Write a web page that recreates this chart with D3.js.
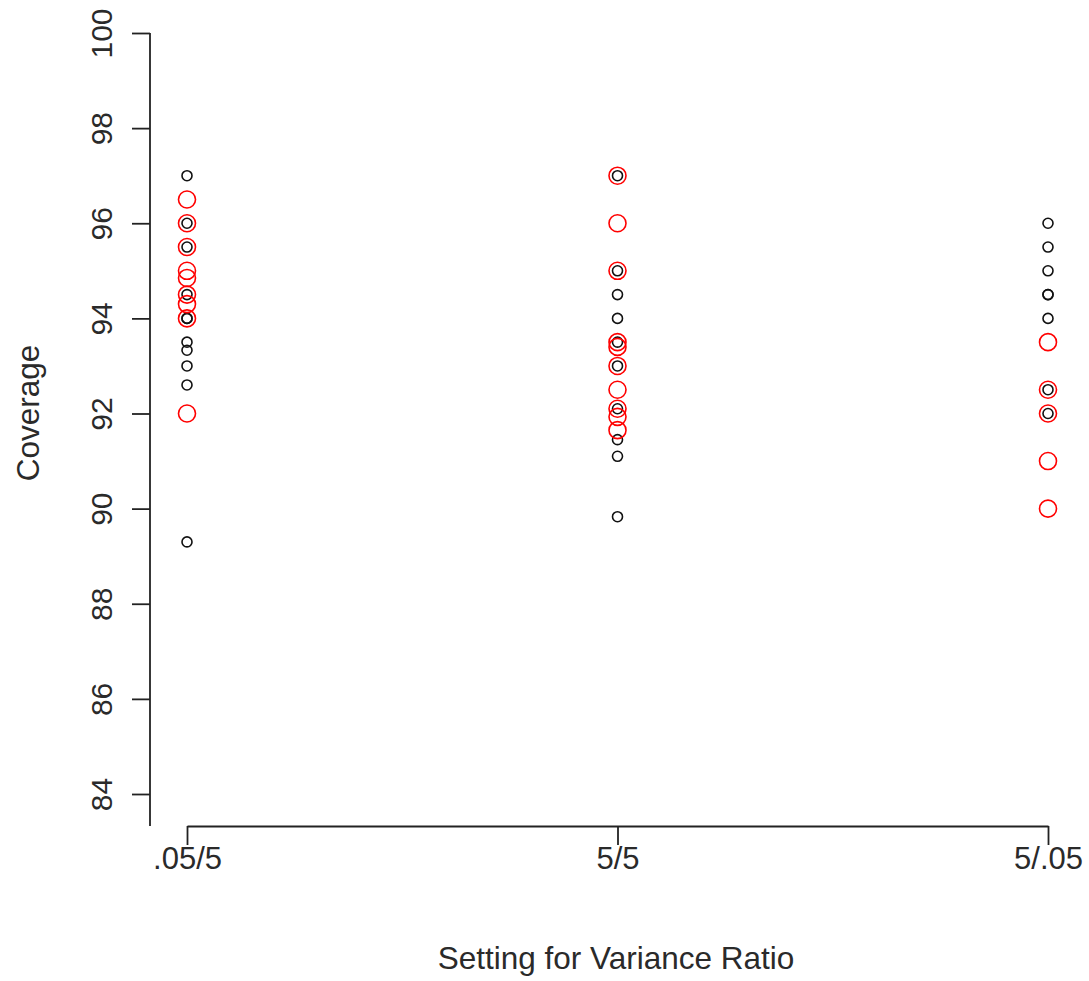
<!DOCTYPE html>
<html>
<head>
<meta charset="utf-8">
<script src="https://cdn.jsdelivr.net/npm/d3@7"></script>
<style>
  body { margin: 0; background: #fff; }
  text { font-family: "Liberation Sans", Arial, sans-serif; fill: #2a2a2a; }
</style>
</head>
<body>
<svg id="chart"></svg>
<script>

// categories on the x axis
const settings = [".05/5", "5/5", "5/.05"];

// black (small) coverage values per setting
const blackValues = [
    [97.0, 96.0, 95.5, 94.5, 94.0, 94.0, 93.5, 93.33, 93.0, 92.6, 89.3],
    [97.0, 95.0, 94.5, 94.0, 93.5, 93.0, 92.1, 91.45, 91.1, 89.83],
    [96.0, 95.5, 95.0, 94.5, 94.5, 94.0, 92.5, 92.0]
];

// red (large) coverage values per setting
const redValues = [
    [96.5, 96.0, 95.5, 95.0, 94.85, 94.5, 94.3, 94.0, 92.0],
    [97.0, 96.0, 95.0, 93.5, 93.4, 93.0, 92.5, 92.1, 91.93, 91.65],
    [93.5, 92.5, 92.0, 91.0, 90.0]
];

const yTicks = [84, 86, 88, 90, 92, 94, 96, 98, 100];

let svgWidth = 1089;
let svgHeight = 981;

let svg = d3.select("#chart")
    .attr("width", svgWidth)
    .attr("height", svgHeight);

let xScale = d3.scalePoint().domain(settings).range([187, 1048]);
let yScale = d3.scaleLinear().domain([84, 100]).range([794, 33]);

let axisY = 826;   // level of the x axis
let axisX = 150;   // position of the y axis

// y axis
let yAxis = svg.append("g")
    .attr("transform", "translate(" + axisX + ",0)")
    .call(d3.axisLeft(yScale).tickValues(yTicks).tickSize(18).tickSizeOuter(0).tickFormat(d3.format("d")));

yAxis.select(".domain").attr("d", "M0," + yScale(100) + "V" + axisY);
yAxis.selectAll("line, .domain").attr("stroke", "#222").attr("stroke-width", 1.8);
yAxis.selectAll("text")
    .attr("font-size", 30)
    .attr("x", 0).attr("y", 0).attr("dy", null)
    .attr("text-anchor", "middle")
    .attr("transform", "translate(-38,0) rotate(-90)");

// x axis
let xAxis = svg.append("g")
    .attr("transform", "translate(0," + axisY + ")")
    .call(d3.axisBottom(xScale).tickSize(19).tickSizeOuter(0));

xAxis.selectAll("line, .domain").attr("stroke", "#222").attr("stroke-width", 1.8);
xAxis.selectAll("text")
    .attr("font-size", 31)
    .attr("y", 43).attr("dy", null);

// axis titles
svg.append("text")
    .attr("x", 616).attr("y", 969)
    .attr("text-anchor", "middle")
    .attr("font-size", 31.5)
    .text("Setting for Variance Ratio");

svg.append("text")
    .attr("transform", "translate(39,413) rotate(-90)")
    .attr("text-anchor", "middle")
    .attr("font-size", 31.5)
    .text("Coverage");

// points
function flatten(groups) {
    let out = [];
    groups.forEach((vals, i) => vals.forEach(v => out.push({ setting: settings[i], value: v })));
    return out;
}

svg.append("g").selectAll("circle")
    .data(flatten(blackValues))
    .join("circle")
    .attr("cx", d => xScale(d.setting))
    .attr("cy", d => yScale(d.value))
    .attr("r", 5)
    .attr("fill", "none")
    .attr("stroke", "#111")
    .attr("stroke-width", 1.6);

svg.append("g").selectAll("circle")
    .data(flatten(redValues))
    .join("circle")
    .attr("cx", d => xScale(d.setting))
    .attr("cy", d => yScale(d.value))
    .attr("r", 8.5)
    .attr("fill", "none")
    .attr("stroke", "#ff0000")
    .attr("stroke-width", 1.6);

</script>
</body>
</html>
